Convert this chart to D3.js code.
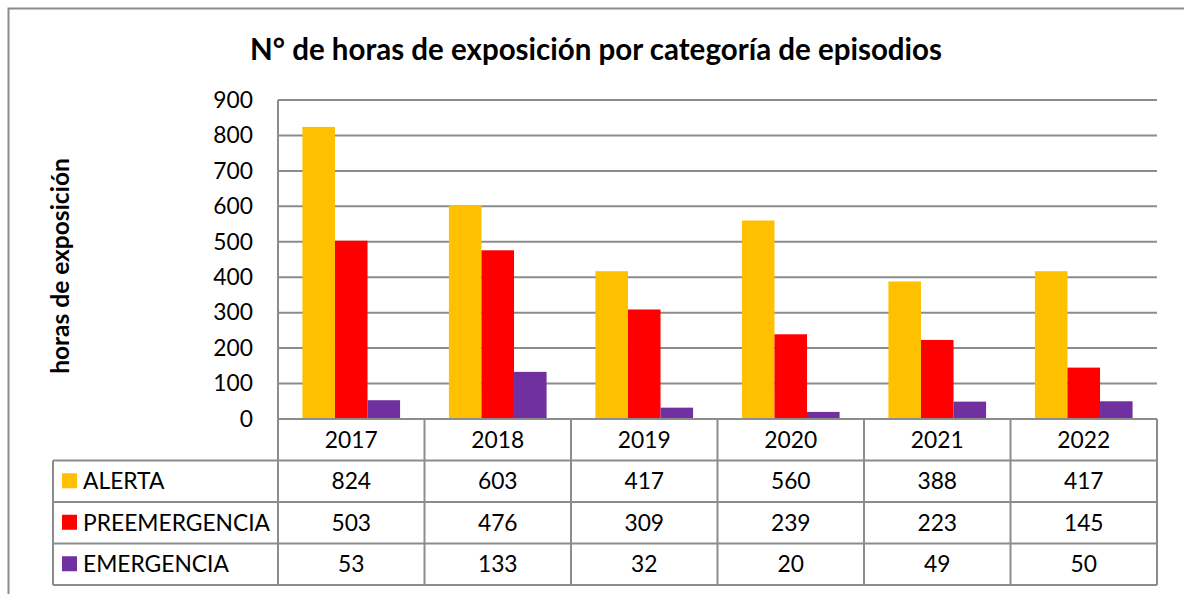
<!DOCTYPE html>
<html>
<head>
<meta charset="utf-8">
<script src="https://cdn.jsdelivr.net/npm/d3@7"></script>
<style>
  body { margin: 0; background: #fff; }
  svg { display: block; font-family: Lato, "Open Sans", sans-serif; }
</style>
</head>
<body>
<div id="chart"></div>
<script>
// data
const years = ["2017", "2018", "2019", "2020", "2021", "2022"];
const series = ["ALERTA", "PREEMERGENCIA", "EMERGENCIA"];
const alerta = [824, 603, 417, 560, 388, 417];
const preemergencia = [503, 476, 309, 239, 223, 145];
const emergencia = [53, 133, 32, 20, 49, 50];
const yTicks = [0, 100, 200, 300, 400, 500, 600, 700, 800, 900];
const colors = ["#FFC000", "#FF0000", "#7030A0"];

const values = [alerta, preemergencia, emergencia];

const width = 1184, height = 594;
const plot = { left: 278, right: 1157, top: 100, bottom: 419 };
const rowH = 41.5;
const legendLeft = 53;
const gridColor = "#8c8c8c";
const fs = "22.8px";

let svg = d3.select("#chart").append("svg")
    .attr("width", width)
    .attr("height", height);

// outer frame
svg.append("rect")
    .attr("x", 8.5).attr("y", 8.5)
    .attr("width", 1200).attr("height", 620)
    .attr("fill", "none")
    .attr("stroke", gridColor)
    .attr("stroke-width", 2);

// title
svg.append("text")
    .attr("x", 596).attr("y", 60)
    .attr("text-anchor", "middle")
    .style("font-size", "29.5px")
    .style("font-weight", "bold")
    .text("N° de horas de exposición por categoría de episodios");

// scales
let x0 = d3.scaleBand()
    .domain(years)
    .range([plot.left, plot.right]);

let bw = x0.bandwidth();
let x1 = d3.scaleBand()
    .domain(series)
    .range([bw / 6, bw * 5 / 6]);

let y = d3.scaleLinear()
    .domain([0, 900])
    .range([plot.bottom, plot.top]);

// gridlines
svg.append("g")
    .selectAll("line")
    .data(yTicks)
    .join("line")
    .attr("x1", plot.left).attr("x2", plot.right)
    .attr("y1", d => y(d)).attr("y2", d => y(d))
    .attr("stroke", gridColor)
    .attr("stroke-width", 2);

// y axis labels
let yAxis = d3.axisLeft(y).tickValues(yTicks).tickSize(0).tickPadding(25);
let yg = svg.append("g")
    .attr("transform", "translate(" + plot.left + ",0)")
    .call(yAxis);
yg.select(".domain").remove();
yg.selectAll("text")
    .style("font-size", fs)
    .style("font-family", "Lato, 'Open Sans', sans-serif")
    .attr("fill", "#000");

// y axis title
svg.append("text")
    .attr("transform", "translate(69,266) rotate(-90)")
    .attr("text-anchor", "middle")
    .style("font-size", "24.5px")
    .style("font-weight", "bold")
    .text("horas de exposición");

// bars
series.forEach((s, si) => {
    svg.append("g")
        .selectAll("rect")
        .data(values[si])
        .join("rect")
        .attr("x", (d, i) => x0(years[i]) + x1(s))
        .attr("y", d => y(d))
        .attr("width", x1.bandwidth())
        .attr("height", d => y(0) - y(d))
        .attr("fill", colors[si]);
});

// plot left border
svg.append("line")
    .attr("x1", plot.left).attr("x2", plot.left)
    .attr("y1", plot.top).attr("y2", plot.bottom + rowH * 4)
    .attr("stroke", gridColor).attr("stroke-width", 2);

// data table
let table = svg.append("g");
let tableBottom = plot.bottom + rowH * 4;

// horizontal lines
[0, 1, 2, 3, 4].forEach(r => {
    let yy = plot.bottom + rowH * r;
    table.append("line")
        .attr("x1", r === 0 ? plot.left : legendLeft)
        .attr("x2", plot.right)
        .attr("y1", yy).attr("y2", yy)
        .attr("stroke", gridColor).attr("stroke-width", 2);
});
table.append("line")
    .attr("x1", legendLeft).attr("x2", legendLeft)
    .attr("y1", plot.bottom + rowH).attr("y2", tableBottom)
    .attr("stroke", gridColor).attr("stroke-width", 2);

// vertical lines at category boundaries
table.selectAll(".vline")
    .data(years)
    .join("line")
    .attr("class", "vline")
    .attr("x1", d => x0(d) + bw).attr("x2", d => x0(d) + bw)
    .attr("y1", plot.bottom).attr("y2", tableBottom)
    .attr("stroke", gridColor).attr("stroke-width", 2);

// year header
table.selectAll(".year")
    .data(years)
    .join("text")
    .attr("class", "year")
    .attr("x", d => x0(d) + bw / 2)
    .attr("y", plot.bottom + rowH / 2 + 8)
    .attr("text-anchor", "middle")
    .style("font-size", fs)
    .text(d => d);

// rows
series.forEach((s, si) => {
    let cy = plot.bottom + rowH * (si + 1) + rowH / 2;
    table.append("rect")
        .attr("x", 62).attr("y", cy - 8)
        .attr("width", 15).attr("height", 15)
        .attr("fill", colors[si]);
    table.append("text")
        .attr("x", 83).attr("y", cy + 8)
        .style("font-size", fs)
        .text(s);
    table.append("g")
        .selectAll("text")
        .data(values[si])
        .join("text")
        .attr("x", (d, i) => x0(years[i]) + bw / 2)
        .attr("y", cy + 8)
        .attr("text-anchor", "middle")
        .style("font-size", fs)
        .text(d => d);
});
</script>
</body>
</html>
